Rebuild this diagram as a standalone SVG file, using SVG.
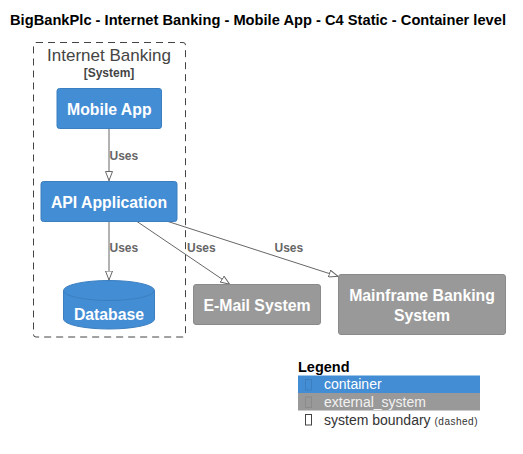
<svg xmlns="http://www.w3.org/2000/svg" width="523" height="454" viewBox="0 0 523 454">
<style>
text { font-family: "Liberation Sans", Arial, sans-serif; }
.title { font-size: 14.5px; font-weight: bold; fill: #000; }
.bnd { fill: none; stroke: #444444; stroke-width: 1; stroke-dasharray: 7,5; }
.bndt { font-size: 17px; fill: #444444; }
.bnds { font-size: 12px; font-weight: bold; fill: #444444; }
.cont { fill: #438DD5; stroke: #3C7FC0; stroke-width: 1; }
.ext { fill: #999999; stroke: #8A8A8A; stroke-width: 1; }
.lbl { font-size: 15.8px; font-weight: bold; fill: #FFFFFF; text-anchor: middle; }
.edge { fill: none; stroke: #666666; stroke-width: 1; }
.elbl { font-size: 12px; font-weight: bold; fill: #666666; }
.lgt { font-size: 14px; }
</style>
<defs>
<marker id="arr" viewBox="0 0 10 8" refX="10" refY="4" markerWidth="10" markerHeight="8" markerUnits="userSpaceOnUse" orient="auto">
<path d="M0.5,0.5 L9.5,4 L0.5,7.5 Z" fill="#FFFFFF" stroke="#666666" stroke-width="1"/>
</marker>
</defs>
<rect width="523" height="454" fill="#FFFFFF"/>
<text class="title" x="10" y="24.5" textLength="496" lengthAdjust="spacingAndGlyphs">BigBankPlc - Internet Banking - Mobile App - C4 Static - Container level</text>

<g id="boundary">
<rect class="bnd" x="33.5" y="42.5" width="152" height="294.5" rx="2.5"/>
<text class="bndt" x="109" y="61" text-anchor="middle">Internet Banking</text>
<text class="bnds" x="109" y="76.5" text-anchor="middle">[System]</text>
</g>

<g id="connectors">
<line class="edge" x1="109" y1="128.5" x2="109" y2="181" marker-end="url(#arr)"/>
<text class="elbl" x="109.5" y="160">Uses</text>
<line class="edge" x1="109" y1="221.5" x2="109" y2="280.5" marker-end="url(#arr)"/>
<text class="elbl" x="109.5" y="252">Uses</text>
<line class="edge" x1="137" y1="221.5" x2="230" y2="284.5" marker-end="url(#arr)"/>
<text class="elbl" x="187" y="252">Uses</text>
<line class="edge" x1="168" y1="221.5" x2="338.5" y2="276.5" marker-end="url(#arr)"/>
<text class="elbl" x="274.5" y="252">Uses</text>
</g>

<g id="mobile_app">
<rect class="cont" x="57" y="88.5" width="104.5" height="40" rx="2.5"/>
<text class="lbl" x="109.3" y="114.5">Mobile App</text>
</g>

<g id="api_application">
<rect class="cont" x="41" y="181.5" width="136" height="40" rx="2.5"/>
<text class="lbl" x="109" y="207.5">API Application</text>
</g>

<g id="database">
<path class="cont" d="M63.5,290.5 A45.5,10 0 0 1 154.5,290.5 L154.5,319 A45.5,10 0 0 1 63.5,319 Z"/>
<path d="M63.5,290.5 A45.5,10 0 0 0 154.5,290.5" fill="none" stroke="#3C7FC0" stroke-width="1"/>
<text class="lbl" x="109" y="320">Database</text>
</g>

<g id="email_system">
<rect class="ext" x="193.5" y="284.5" width="127" height="40" rx="2.5"/>
<text class="lbl" x="257" y="311">E-Mail System</text>
</g>

<g id="mainframe">
<rect class="ext" x="338.5" y="274.5" width="167" height="60" rx="2.5"/>
<text class="lbl" x="422" y="301">Mainframe Banking</text>
<text class="lbl" x="422" y="320.5">System</text>
</g>

<g id="legend">
<text x="298" y="372" font-size="14.5" font-weight="bold" fill="#000">Legend</text>
<rect x="298" y="375.5" width="182" height="17.5" fill="#438DD5"/>
<rect x="305.5" y="379.5" width="6" height="10.5" fill="none" stroke="#3C7FC0" stroke-width="1"/>
<text class="lgt" x="324" y="388.5" fill="#FFFFFF">container</text>
<rect x="298" y="393" width="182" height="17.5" fill="#999999"/>
<rect x="305.5" y="397" width="6" height="10.5" fill="none" stroke="#8A8A8A" stroke-width="1"/>
<text class="lgt" x="324" y="406.5" fill="#F2F2F2">external_system</text>
<rect x="305.5" y="414.5" width="6" height="10.5" fill="none" stroke="#444444" stroke-width="1"/>
<text class="lgt" x="324" y="424.5" fill="#333333">system boundary <tspan font-size="10" letter-spacing="0.5">(dashed)</tspan></text>
</g>
</svg>
